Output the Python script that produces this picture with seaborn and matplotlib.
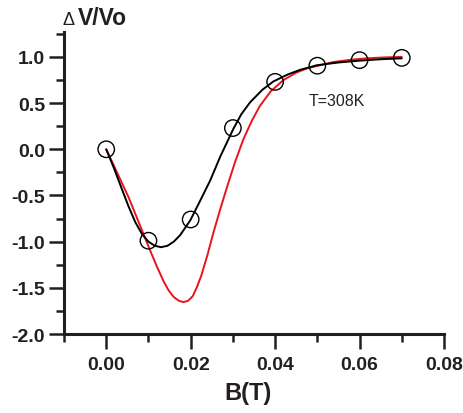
import matplotlib
matplotlib.use("Agg")
import matplotlib.pyplot as plt
from matplotlib.ticker import MultipleLocator, FormatStrFormatter
import seaborn as sns

# measured points (open circles)
b_pts = [0.00, 0.01, 0.02, 0.03, 0.04, 0.05, 0.06, 0.07]
dv_pts = [0.00, -0.99, -0.76, 0.23, 0.73, 0.905, 0.965, 0.99]

# black fit curve
b_black = [0.0, 0.0018, 0.0037, 0.0053, 0.0069, 0.0085, 0.0100, 0.0115, 0.0130,
           0.0145, 0.0160, 0.0175, 0.0199, 0.0220, 0.0246, 0.0270, 0.0301, 0.0320,
           0.0341, 0.0370, 0.0396, 0.0430, 0.0459, 0.0499, 0.0550, 0.0601, 0.0650,
           0.0700]
dv_black = [0.0, -0.20, -0.43, -0.62, -0.79, -0.92, -1.00, -1.045, -1.06,
            -1.045, -1.00, -0.93, -0.77, -0.58, -0.34, -0.08, 0.22, 0.38,
            0.51, 0.645, 0.735, 0.81, 0.86, 0.91, 0.94, 0.96, 0.975,
            0.985]

# red model curve
b_red = [0.0, 0.0053, 0.0104, 0.0120, 0.0136, 0.0148, 0.0160, 0.0172, 0.0183,
         0.0194, 0.0205, 0.0215, 0.0225, 0.0240, 0.0254, 0.0270, 0.0286, 0.0305,
         0.0325, 0.0345, 0.0364, 0.0390, 0.0420, 0.0450, 0.0475, 0.0538, 0.0580,
         0.0617, 0.0660, 0.0700]
dv_red = [0.0, -0.52, -1.095, -1.27, -1.43, -1.53, -1.60, -1.64, -1.655,
          -1.64, -1.59, -1.49, -1.37, -1.14, -0.90, -0.65, -0.41, -0.14,
          0.11, 0.31, 0.47, 0.63, 0.75, 0.83, 0.875, 0.945, 0.97,
          0.985, 0.995, 1.00]

sns.set_style("ticks")
plt.rcParams['font.family'] = ['Liberation Sans', 'DejaVu Sans']

fig = plt.figure(figsize=(4.63, 4.14), dpi=100)
ax = fig.add_axes([64 / 463, 1 - 335 / 414, 380 / 463, 302 / 414])

sns.lineplot(x=b_red, y=dv_red, sort=False, color='#e8141c', linewidth=1.4, ax=ax)
sns.lineplot(x=b_black, y=dv_black, sort=False, color='black', linewidth=1.4, ax=ax)
sns.scatterplot(x=b_pts, y=dv_pts, s=140, marker='o', facecolor='none',
                edgecolor='black', linewidth=1.0, ax=ax, zorder=3)

ax.set_xlim(-0.01, 0.08)
ax.set_ylim(-2.0, 1.27)

ax.xaxis.set_major_locator(MultipleLocator(0.02))
ax.xaxis.set_minor_locator(MultipleLocator(0.01))
ax.yaxis.set_major_locator(MultipleLocator(0.5))
ax.yaxis.set_minor_locator(MultipleLocator(0.25))
ax.xaxis.set_major_formatter(FormatStrFormatter('%.2f'))
ax.yaxis.set_major_formatter(FormatStrFormatter('%.1f'))

ax.spines['top'].set_visible(False)
ax.spines['right'].set_visible(False)
for s in ['left', 'bottom']:
    ax.spines[s].set_linewidth(2.2)
    ax.spines[s].set_color('#231f20')

ax.tick_params(which='major', length=10.5, width=1.8, color='#231f20')
ax.tick_params(which='minor', length=5.5, width=1.8, color='#231f20')
ax.tick_params(axis='x', which='major', pad=5)
ax.tick_params(axis='y', which='major', pad=3)
for lab in ax.get_xticklabels() + ax.get_yticklabels():
    lab.set_fontsize(14)
    lab.set_fontweight('bold')
    lab.set_color('#231f20')

ax.set_xlabel('B(T)', fontsize=17, fontweight='bold', color='#231f20', labelpad=4)
ax.xaxis.set_label_coords(0.485, -0.155)
ax.set_ylabel('')

# y label sits on top: thin delta, bold V/Vo
fig.text(62 / 463, 1 - 25 / 414, 'Δ', fontsize=13, color='#231f20',
         ha='left', va='baseline')
fig.text(78 / 463, 1 - 25 / 414, 'V/Vo', fontsize=16.5, fontweight='bold',
         color='#231f20', ha='left', va='baseline')

ax.text(0.0546, 0.523, 'T=308K', fontsize=11.5, color='#231f20',
        ha='center', va='center')

fig.savefig('out.png', dpi=100)
plt.close(fig)
